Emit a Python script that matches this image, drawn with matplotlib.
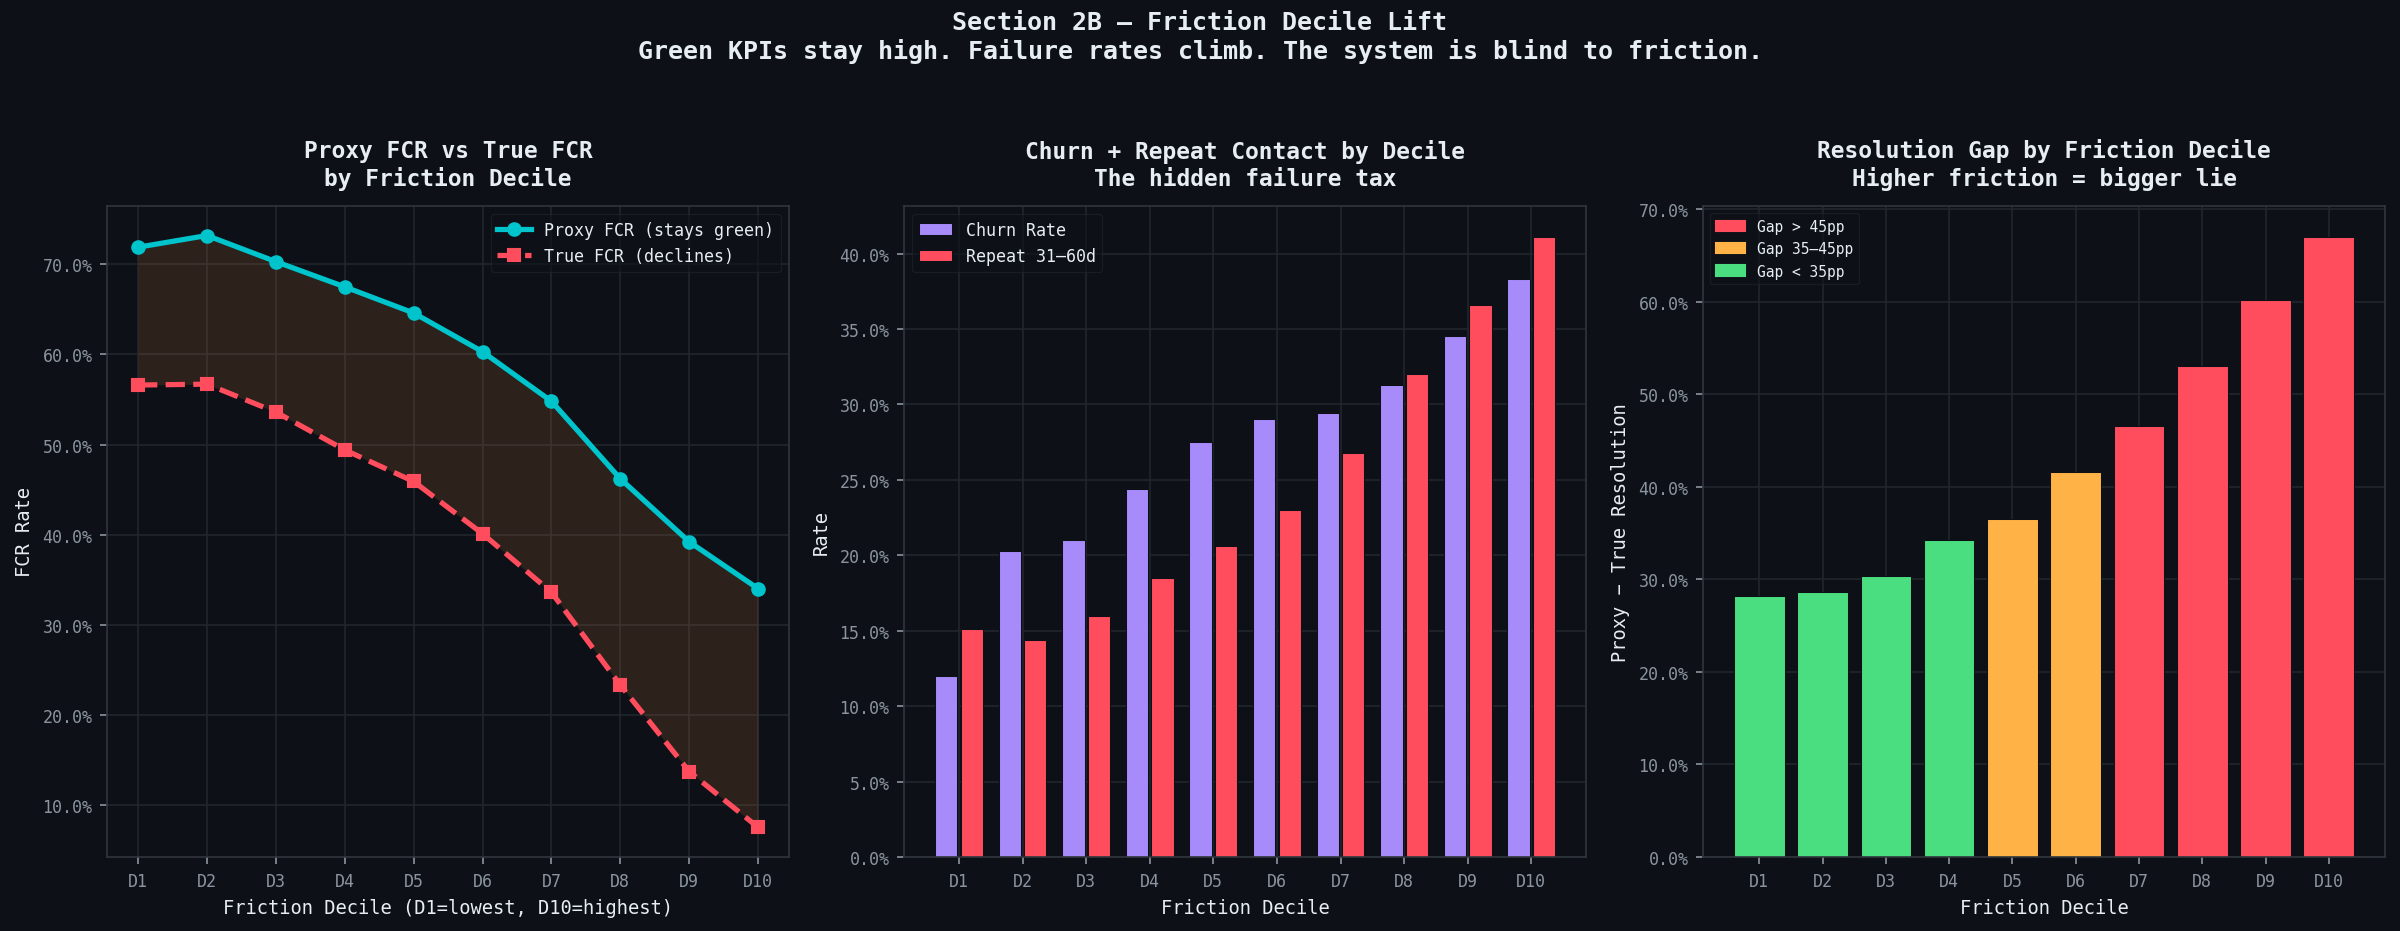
import numpy as np
import matplotlib
matplotlib.use("Agg")
import matplotlib.pyplot as plt
from matplotlib.ticker import PercentFormatter
from matplotlib.patches import Patch

# data
deciles = ["D1", "D2", "D3", "D4", "D5", "D6", "D7", "D8", "D9", "D10"]
proxy_fcr = [71.9, 73.2, 70.3, 67.5, 64.6, 60.3, 54.8, 46.2, 39.2, 34.0]
true_fcr = [56.6, 56.7, 53.6, 49.4, 45.9, 40.1, 33.6, 23.3, 13.7, 7.5]
churn_rate = [12.0, 20.3, 21.0, 24.4, 27.5, 29.0, 29.4, 31.3, 34.5, 38.3]
repeat_31_60 = [15.1, 14.4, 16.0, 18.5, 20.6, 23.0, 26.8, 32.0, 36.6, 41.1]
res_gap = [28.2, 28.6, 30.4, 34.2, 36.5, 41.6, 46.6, 53.1, 60.2, 67.0]

BG = "#0d1117"
FG = "#e6edf3"
MUTED = "#8b949e"
GRID = "#21262d"
SPINE = "#30363d"
CYAN = "#00c4cc"
RED = "#ff4d5e"
PURPLE = "#a78bfa"
GREEN = "#4ade80"
ORANGE = "#ffb347"
FILL = "#f0883e"

plt.rcParams["font.family"] = ["DejaVu Sans Mono", "DejaVu Sans"]
plt.rcParams["text.color"] = FG
plt.rcParams["axes.labelcolor"] = FG
plt.rcParams["xtick.color"] = MUTED
plt.rcParams["ytick.color"] = MUTED

fig = plt.figure(figsize=(16, 6.2133), dpi=150, facecolor=BG)
lefts = [0.0446, 0.3767, 0.7096]
axs = [fig.add_axes([l, 0.0794, 0.2842, 0.6986]) for l in lefts]

x = np.arange(len(deciles))


def style(ax):
    ax.set_facecolor(BG)
    for s in ax.spines.values():
        s.set_color(SPINE)
    ax.grid(True, color=GRID, linewidth=0.8)
    ax.set_axisbelow(True)
    ax.tick_params(labelsize=8, colors=MUTED)
    ax.set_xticks(x)
    ax.set_xticklabels(deciles)
    ax.yaxis.set_major_formatter(PercentFormatter(decimals=1))


def leg(ax, **kw):
    lg = ax.legend(facecolor=BG, edgecolor=GRID, labelcolor=FG, framealpha=0.6, **kw)
    lg.get_frame().set_linewidth(0.6)
    return lg


# panel 1
ax = axs[0]
style(ax)
ax.fill_between(x, true_fcr, proxy_fcr, color=FILL, alpha=0.14, linewidth=0)
ax.plot(x, proxy_fcr, color=CYAN, lw=2.5, marker="o", ms=6, label="Proxy FCR (stays green)")
ax.plot(x, true_fcr, color=RED, lw=2.5, ls="--", marker="s", ms=6, label="True FCR (declines)")
ax.set_title("Proxy FCR vs True FCR\nby Friction Decile", fontsize=11, fontweight="bold", pad=10)
ax.set_xlabel("Friction Decile (D1=lowest, D10=highest)", fontsize=9)
ax.set_ylabel("FCR Rate", fontsize=9)
leg(ax, loc="upper right", fontsize=8)

# panel 2
ax = axs[1]
style(ax)
ax.bar(x - 0.2, churn_rate, 0.35, color=PURPLE, edgecolor=BG, linewidth=0.5, label="Churn Rate")
ax.bar(x + 0.2, repeat_31_60, 0.35, color=RED, edgecolor=BG, linewidth=0.5, label="Repeat 31\u201360d")
ax.set_title("Churn + Repeat Contact by Decile\nThe hidden failure tax", fontsize=11, fontweight="bold", pad=10)
ax.set_xlabel("Friction Decile", fontsize=9)
ax.set_ylabel("Rate", fontsize=9)
leg(ax, loc="upper left", fontsize=8)

# panel 3
ax = axs[2]
style(ax)
cols = [RED if g > 45 else (ORANGE if g >= 35 else GREEN) for g in res_gap]
ax.bar(x, res_gap, 0.8, color=cols, edgecolor=BG, linewidth=0.5)
ax.set_title("Resolution Gap by Friction Decile\nHigher friction = bigger lie", fontsize=11, fontweight="bold", pad=10)
ax.set_xlabel("Friction Decile", fontsize=9)
ax.set_ylabel("Proxy \u2212 True Resolution", fontsize=9)
handles = [Patch(color=RED, label="Gap > 45pp"),
           Patch(color=ORANGE, label="Gap 35\u201345pp"),
           Patch(color=GREEN, label="Gap < 35pp")]
leg(ax, handles=handles, loc="upper left", fontsize=7)

fig.suptitle("Section 2B \u2014 Friction Decile Lift\nGreen KPIs stay high. Failure rates climb. The system is blind to friction.",
             fontsize=12, fontweight="bold", color=FG, y=0.988, va="top")

fig.savefig("out.png", dpi=150, facecolor=BG)
